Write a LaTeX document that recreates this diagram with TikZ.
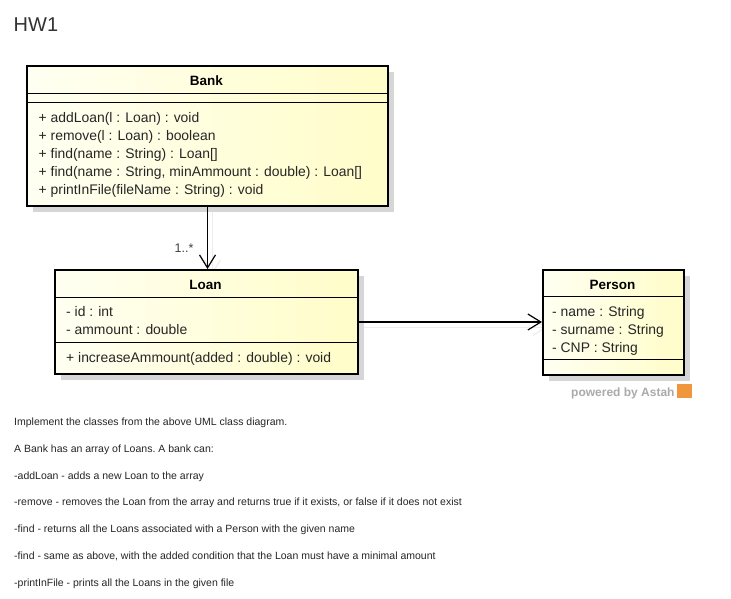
\documentclass[tikz,border=0pt]{standalone}
\usepackage{fontspec}
\setmainfont{Liberation Sans}
\usetikzlibrary{arrows.meta,shadows}
\definecolor{boxlight}{RGB}{255,255,242}
\definecolor{boxdark}{RGB}{255,253,200}
\definecolor{shadowgray}{RGB}{214,214,214}
\definecolor{headgray}{RGB}{51,51,51}
\definecolor{brandgray}{RGB}{170,170,170}
\definecolor{astahorange}{RGB}{240,150,60}
\pgfdeclarelayer{bg}
\pgfsetlayers{bg,main}

\begin{document}
\begin{tikzpicture}[x=1pt,y=-1pt,
  classbox/.style={draw=black, line width=2pt, inner sep=0pt, anchor=north west,
    left color=boxlight, right color=boxdark,
    drop shadow={shadow xshift=6pt, shadow yshift=-6pt, fill=shadowgray, opacity=1}},
  divider/.style={draw=black, line width=0.9pt},
  classname/.style={font=\fontsize{13.5}{16}\selectfont\bfseries, anchor=base, inner sep=0pt},
  member/.style={font=\fontsize{13.9}{16}\selectfont\nonfrenchspacing, anchor=base west, inner sep=0pt, text=black!85},
  assoc/.style={draw=black, line width=1.2pt, -{Straight Barb[length=13pt,width=16pt,line width=1.2pt]}},
  assocshadow/.style={draw=black!7, line width=1.2pt, -{Straight Barb[length=13pt,width=16pt,line width=1.2pt]}},
  note/.style={font=\fontsize{10.5}{12}\selectfont\frenchspacing, anchor=base west, inner sep=0pt, text=black!85},
]
\useasboundingbox (0,0) rectangle (731,598);

% heading
\node[font=\fontsize{20}{24}\selectfont, text=headgray, anchor=base west, inner sep=0pt] (heading) at (13.5,31.7) {HW1};

% class boxes
\node[classbox, minimum width=361pt, minimum height=140pt] (bank) at (26,65) {};
\node[classbox, minimum width=303pt, minimum height=104pt] (loan) at (54,269) {};
\node[classbox, minimum width=141pt, minimum height=105pt] (person) at (542,269) {};

% compartments
\draw[divider] ([yshift=-28pt]bank.north west) -- ([yshift=-28pt]bank.north east);
\draw[divider] ([yshift=-37pt]bank.north west) -- ([yshift=-37pt]bank.north east);
\draw[divider] ([yshift=-28pt]loan.north west) -- ([yshift=-28pt]loan.north east);
\draw[divider] ([yshift=-73pt]loan.north west) -- ([yshift=-73pt]loan.north east);
\draw[divider] ([yshift=-27pt]person.north west) -- ([yshift=-27pt]person.north east);
\draw[divider] ([yshift=-90pt]person.north west) -- ([yshift=-90pt]person.north east);

% Bank
\node[classname] (bankname) at (206.5,85.5) {Bank};
\node[member] (bm1) at (38.5,122.5) {+ addLoan(l : Loan) : void};
\node[member] (bm2) at (38.5,140.5) {+ remove(l : Loan) : boolean};
\node[member] (bm3) at (38.5,158.5) {+ find(name : String) : Loan[]};
\node[member] (bm4) at (38.5,176.5) {+ find(name : String, minAmmount : double) : Loan[]};
\node[member] (bm5) at (38.5,194.5) {+ printInFile(fileName : String) : void};

% Loan
\node[classname] (loanname) at (205.5,289) {Loan};
\node[member] (la1) at (66,316) {- id : int};
\node[member] (la2) at (66,334) {- ammount : double};
\node[member] (lm1) at (66,362) {+ increaseAmmount(added : double) : void};

% Person
\node[classname] (personname) at (612.5,289.3) {Person};
\node[member] (pa1) at (552,316.5) {- name : String};
\node[member] (pa2) at (552,334.5) {- surname : String};
\node[member] (pa3) at (552,352.5) {- CNP : String};

% associations
\begin{pgfonlayer}{bg}
  \fill[white] (0,0) rectangle (731,598);
  \draw[assocshadow] ([shift={(5,5)}]bank.south) -- ([shift={(5,5)}]bank.south |- loan.north);
  \draw[assocshadow] ([shift={(5,5.5)}]loan.east) -- ([shift={(5,5.5)}]loan.east -| person.west);
\end{pgfonlayer}
\draw[assoc] (bank.south) -- (bank.south |- loan.north);
\draw[assoc] (loan.east) -- (loan.east -| person.west);
\node[font=\fontsize{12.5}{14}\selectfont, text=black!75, inner sep=0pt] (mult) at (184,248) {1..*};

% tool mark
\node[font=\fontsize{12}{14}\selectfont\bfseries, text=brandgray, anchor=base west, inner sep=0pt] (powered) at (571,396) {powered by Astah};
\node[fill=astahorange, minimum width=15pt, minimum height=14pt, inner sep=0pt, anchor=north west] (logo) at (677,384) {};

% assignment text
\node[note] (t1) at (14,425.5) {Implement the classes from the above UML class diagram.};
\node[note] (t2) at (14,452.3) {A Bank has an array of Loans. A bank can:};
\node[note] (t3) at (14,479.1) {-addLoan - adds a new Loan to the array};
\node[note] (t4) at (14,505.9) {-remove - removes the Loan from the array and returns true if it exists, or false if it does not exist};
\node[note] (t5) at (14,532.7) {-find - returns all the Loans associated with a Person with the given name};
\node[note] (t6) at (14,559.5) {-find - same as above, with the added condition that the Loan must have a minimal amount};
\node[note] (t7) at (14,586.3) {-printInFile - prints all the Loans in the given file};
\end{tikzpicture}
\end{document}
